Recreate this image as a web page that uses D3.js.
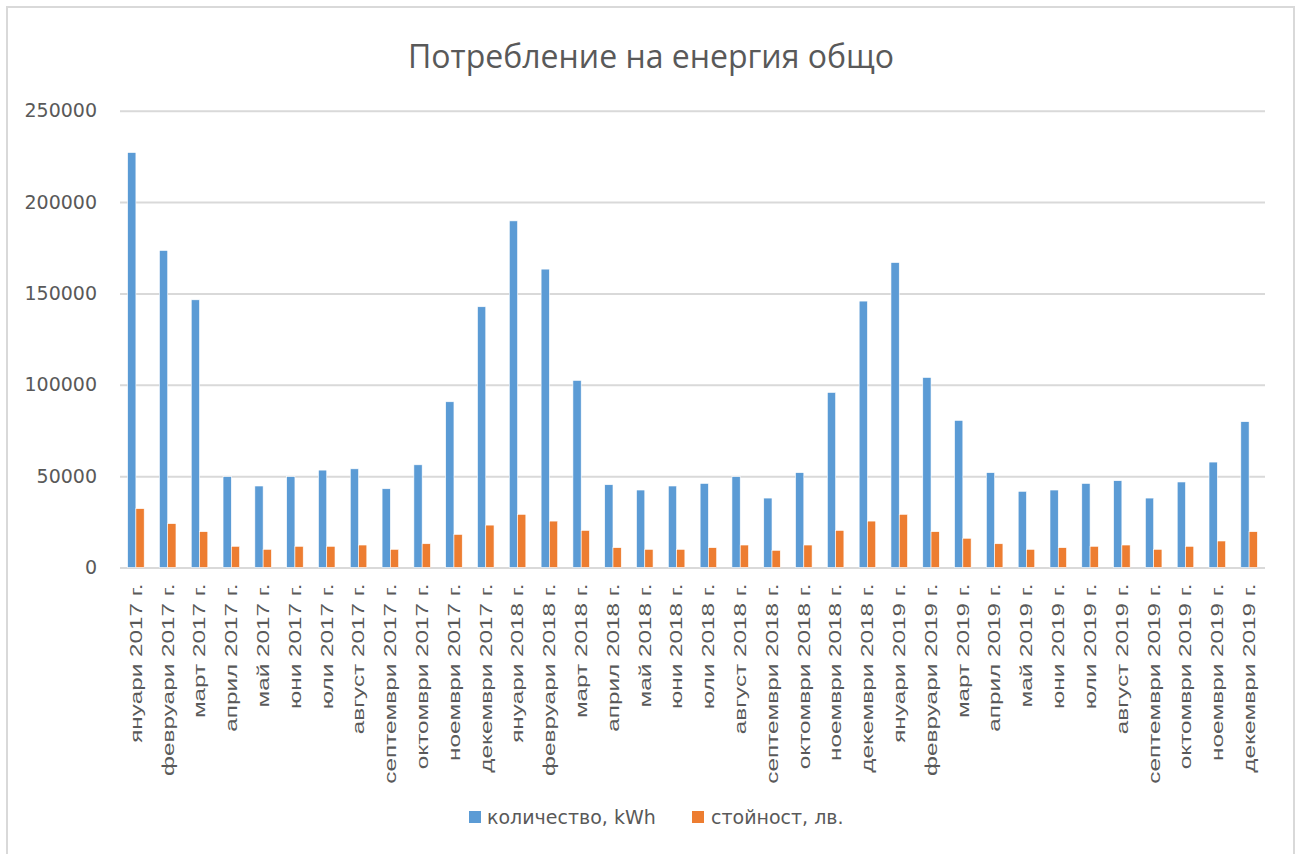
<!DOCTYPE html>
<html>
<head>
<meta charset="utf-8">
<script src="https://cdn.jsdelivr.net/npm/d3@7"></script>
<style>
  html, body { margin: 0; padding: 0; background: #fff; }
  svg { display: block; }
</style>
</head>
<body>
<svg id="chart" width="1297" height="854"></svg>
<script>
const title = "Потребление на енергия общо";
const months = ["януари","февруари","март","април","май","юни","юли","август","септември","октомври","ноември","декември"];
const years = [2017, 2018, 2019];
const categories = years.flatMap(y => months.map(m => `${m} ${y} г.`));
const seriesNames = ["количество, kWh", "стойност, лв."];
const seriesColors = ["#5b9bd5", "#ed7d31"];
const quantity = [
  227100, 173500, 146500, 49700, 44600, 49700, 53300, 54000, 43100, 56200, 90700, 142700,
  189700, 163300, 102400, 45300, 42400, 44600, 46000, 49700, 38000, 51900, 95800, 145800,
  166900, 104000, 80500, 51900, 41700, 42400, 46000, 47500, 38000, 46800, 57700, 79800
];
const cost = [
  32200, 24000, 19600, 11600, 9950, 11600, 11600, 12300, 9950, 13000, 18100, 23200,
  29100, 25400, 20300, 10850, 9950, 9950, 10850, 12300, 9400, 12300, 20300, 25400,
  29100, 19600, 16000, 13000, 9950, 10850, 11600, 12300, 9950, 11600, 14500, 19600
];
const yTicks = [0, 50000, 100000, 150000, 200000, 250000];

const svg = d3.select("#chart");
const plot = { left: 120, right: 1265, top: 110.7, bottom: 567.5 };
const textColor = "#595959";
const gridColor = "#d9d9d9";

// chart frame
svg.append("rect").attr("x", 7).attr("y", 7).attr("width", 1287).attr("height", 860)
  .attr("fill", "#fff").attr("stroke", gridColor).attr("stroke-width", 2);

// title
svg.append("text").attr("x", 651).attr("y", 68).attr("text-anchor", "middle")
  .attr("font-family", "'Open Sans', 'Noto Sans', sans-serif").attr("font-size", 32)
  .attr("fill", textColor).text(title);

const x = d3.scaleBand().domain(categories).range([plot.left, plot.right]).paddingInner(0).paddingOuter(0);
const y = d3.scaleLinear().domain([0, 250000]).range([plot.bottom, plot.top]);
const barW = x.bandwidth() * 0.26;
const inner = d3.scaleBand().domain([0, 1]).range([0, barW * 2]);

// gridlines + y labels
const yAxis = d3.axisLeft(y).tickValues(yTicks).tickSize(-(plot.right - plot.left)).tickPadding(23).tickFormat(d3.format("d"));
const gy = svg.append("g").attr("transform", `translate(${plot.left},0)`).call(yAxis);
gy.select(".domain").remove();
gy.selectAll(".tick line").attr("stroke", gridColor).attr("stroke-width", 2);
gy.selectAll(".tick text").attr("fill", textColor).attr("font-family", "'DejaVu Sans', sans-serif")
  .attr("font-size", 19);

// bars
const series = [quantity, cost];
series.forEach((vals, si) => {
  svg.append("g").selectAll("rect").data(vals).join("rect")
    .attr("x", (d, i) => x(categories[i]) + x.bandwidth() / 2 - barW + inner(si))
    .attr("y", d => y(d))
    .attr("width", inner.bandwidth())
    .attr("height", d => y(0) - y(d))
    .attr("fill", seriesColors[si])
    .attr("stroke", "#fff").attr("stroke-width", 0.6);
});

// x axis labels
const xAxis = d3.axisBottom(x).tickSize(0).tickPadding(0);
const gx = svg.append("g").attr("transform", `translate(0,${plot.bottom})`).call(xAxis);
gx.select(".domain").remove();
gx.selectAll(".tick text")
  .attr("fill", textColor)
  .attr("font-family", "'Liberation Sans', Arial, sans-serif")
  .attr("font-size", 16)
  .attr("text-anchor", "end")
  .attr("y", 0).attr("dy", null)
  .attr("transform", "translate(0,16) rotate(-90) scale(1.52,1)")
  .attr("dominant-baseline", "central");

// legend
const legendItems = [{ x: 469, tx: 487 }, { x: 692, tx: 711 }];
legendItems.forEach((l, i) => {
  svg.append("rect").attr("x", l.x).attr("y", 811).attr("width", 12).attr("height", 12).attr("fill", seriesColors[i]);
  svg.append("text").attr("x", l.tx).attr("y", 824).attr("fill", textColor)
    .attr("font-family", "'DejaVu Sans', sans-serif").attr("font-size", 19).text(seriesNames[i]);
});
</script>
</body>
</html>
